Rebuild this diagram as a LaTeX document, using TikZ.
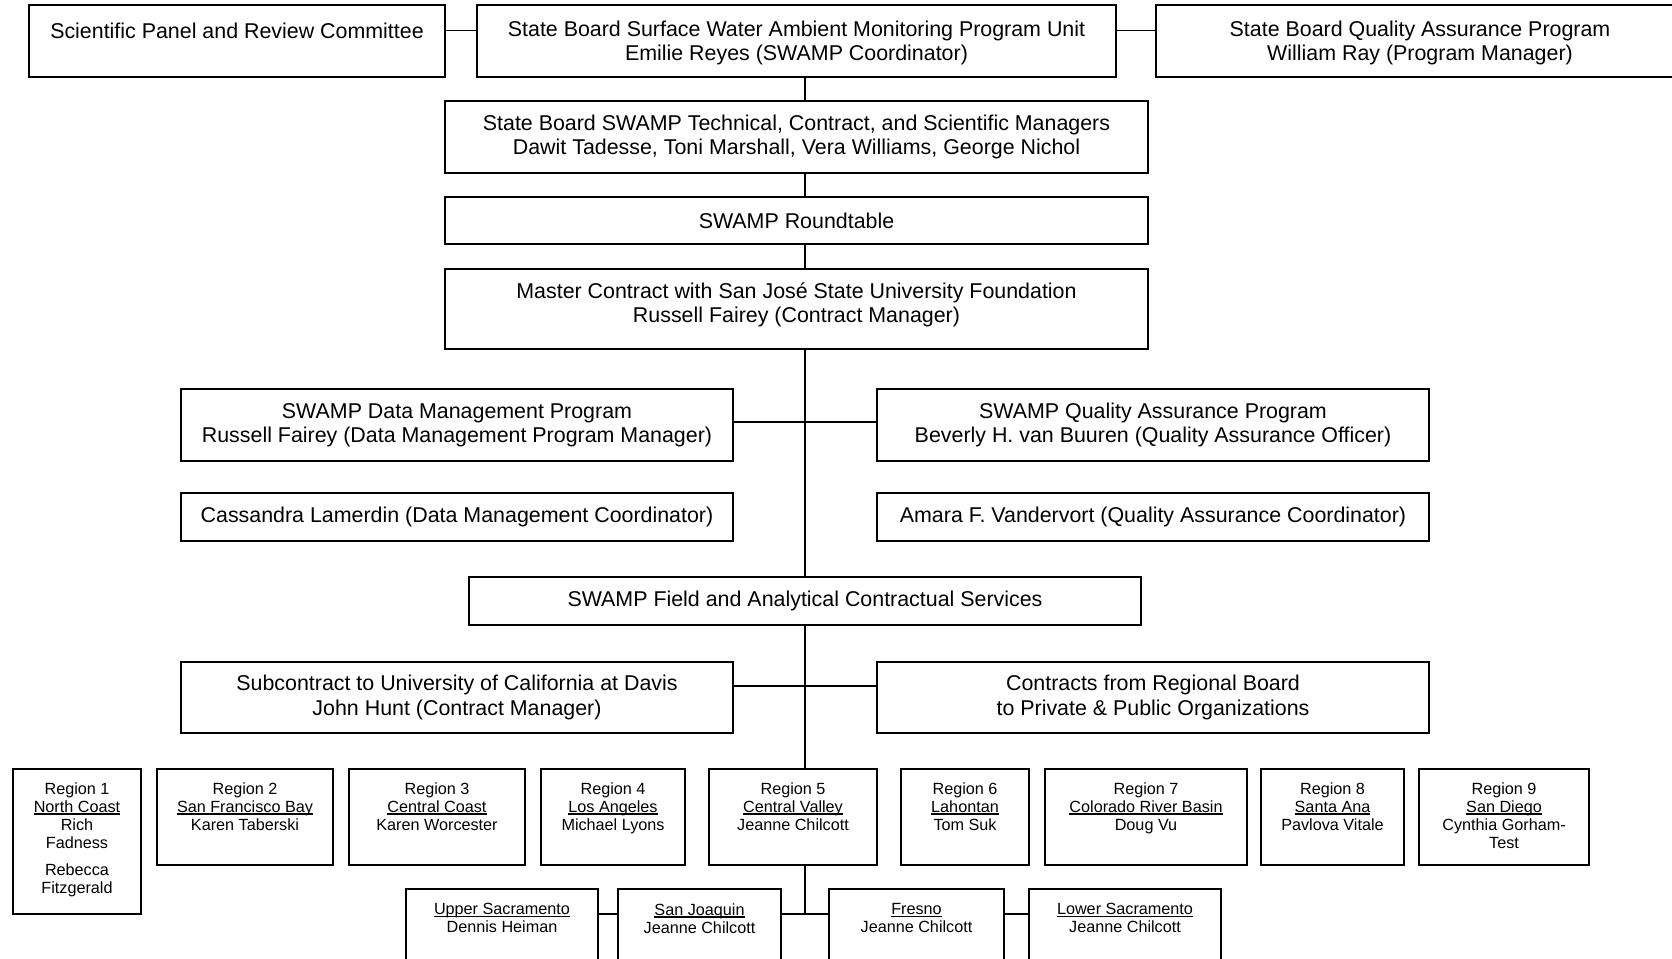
\documentclass[tikz,border=0pt]{standalone}
\usepackage{fontspec}
\setmainfont{Liberation Sans}
\usetikzlibrary{fit,calc}
\newcommand\bigf{\fontsize{21.4}{24.4}\selectfont}
\newcommand\smallf{\fontsize{16.2}{18}\selectfont}
\newcommand\uln[1]{\setbox0=\hbox{#1}\leavevmode\rlap{\rule[-2.4pt]{\wd0}{1.2pt}}\box0}
\tikzset{
  box/.style={draw=black, line width=1.4pt, inner sep=0pt},
  ctxt/.style={inner sep=0pt, align=center, font=\bigf, anchor=center},
  btxt/.style={inner sep=0pt, align=center, font=\bigf, anchor=north},
  stxt/.style={inner sep=0pt, align=center, font=\smallf, anchor=north},
  link/.style={draw=black, line width=1.2pt},
}
\begin{document}
\begin{tikzpicture}[x=1pt, y=-1pt]
\useasboundingbox (0,0) rectangle (1672,958);
% top row
\node[box, fit={(29,5) (445,77)}] (sci) {};
\node[btxt] (scit) at ([yshift=-18pt]sci.north) {Scientific Panel and Review Committee};
\node[box, fit={(477,5) (1116,77)}] (unit) {};
\node[ctxt] (unitt) at ([yshift=-2pt]unit.center) {State Board Surface Water Ambient Monitoring Program Unit\\Emilie Reyes (SWAMP Coordinator)};
\node[box, fit={(1156,5) (1684,77)}] (sbqa) {};
\node[ctxt] (sbqat) at ([yshift=-2pt]sbqa.center) {State Board Quality Assurance Program\\William Ray (Program Manager)};
% central column
\node[box, fit={(445,101) (1148,173)}] (tech) {};
\node[ctxt] (techt) at (tech.center) {State Board SWAMP Technical, Contract, and Scientific Managers\\Dawit Tadesse, Toni Marshall, Vera Williams, George Nichol};
\node[box, fit={(445,197) (1148,244)}] (round) {};
\node[ctxt] (roundt) at (round.center) {SWAMP Roundtable};
\node[box, fit={(445,269) (1148,349)}] (master) {};
\node[ctxt] (mastert) at ([yshift=4pt]master.center) {Master Contract with San José State University Foundation\\Russell Fairey (Contract Manager)};
\node[box, fit={(181,389) (733,461)}] (dm) {};
\node[ctxt] (dmt) at (dm.center) {SWAMP Data Management Program\\Russell Fairey (Data Management Program Manager)};
\node[box, fit={(877,389) (1429,461)}] (qap) {};
\node[ctxt] (qapt) at (qap.center) {SWAMP Quality Assurance Program\\Beverly H. van Buuren (Quality Assurance Officer)};
\node[box, fit={(181,493) (733,541)}] (cass) {};
\node[ctxt] (casst) at (cass.center) {Cassandra Lamerdin (Data Management Coordinator)};
\node[box, fit={(877,493) (1429,541)}] (amara) {};
\node[ctxt] (amarat) at (amara.center) {Amara F. Vandervort (Quality Assurance Coordinator)};
\node[box, fit={(469,577) (1141,625)}] (field) {};
\node[ctxt] (fieldt) at (field.center) {SWAMP Field and Analytical Contractual Services};
\node[box, fit={(181,662) (733,733)}] (ucd) {};
\node[ctxt] (ucdt) at (ucd.center) {Subcontract to University of California at Davis\\John Hunt (Contract Manager)};
\node[box, fit={(877,662) (1429,733)}] (regc) {};
\node[ctxt] (regct) at (regc.center) {Contracts from Regional Board\\to Private \& Public Organizations};
% regions
\node[box, fit={(13,769) (141,914)}] (r1) {};
\node[stxt] (r1t) at ([yshift=-14pt]r1.north) {Region 1\\\uln{North Coast}\\Rich\\Fadness\\[9pt]Rebecca\\Fitzgerald};
\node[box, fit={(157,769) (333,865)}] (r2) {};
\node[stxt] (r2t) at ([yshift=-14pt]r2.north) {Region 2\\\uln{San Francisco Bay}\\Karen Taberski};
\node[box, fit={(349,769) (525,865)}] (r3) {};
\node[stxt] (r3t) at ([yshift=-14pt]r3.north) {Region 3\\\uln{Central Coast}\\Karen Worcester};
\node[box, fit={(541,769) (685,865)}] (r4) {};
\node[stxt] (r4t) at ([yshift=-14pt]r4.north) {Region 4\\\uln{Los Angeles}\\Michael Lyons};
\node[box, fit={(709,769) (877,865)}] (r5) {};
\node[stxt] (r5t) at ([yshift=-14pt]r5.north) {Region 5\\\uln{Central Valley}\\Jeanne Chilcott};
\node[box, fit={(901,769) (1029,865)}] (r6) {};
\node[stxt] (r6t) at ([yshift=-14pt]r6.north) {Region 6\\\uln{Lahontan}\\Tom Suk};
\node[box, fit={(1045,769) (1247,865)}] (r7) {};
\node[stxt] (r7t) at ([yshift=-14pt]r7.north) {Region 7\\\uln{Colorado River Basin}\\Doug Vu};
\node[box, fit={(1261,769) (1404,865)}] (r8) {};
\node[stxt] (r8t) at ([yshift=-14pt]r8.north) {Region 8\\\uln{Santa Ana}\\Pavlova Vitale};
\node[box, fit={(1419,769) (1589,865)}] (r9) {};
\node[stxt] (r9t) at ([yshift=-14pt]r9.north) {Region 9\\\uln{San Diego}\\Cynthia Gorham-\\Test};
% Region 5 sub-offices
\node[box, fit={(406,889) (598,980)}] (us) {};
\node[stxt] (ust) at ([yshift=-15pt]us.north) {\uln{Upper Sacramento}\\Dennis Heiman};
\node[box, fit={(618,889) (781,980)}] (sj) {};
\node[stxt] (sjt) at ([yshift=-15pt]sj.north) {\uln{San Joaquin}\\Jeanne Chilcott};
\node[box, fit={(829,889) (1004,980)}] (fr) {};
\node[stxt] (frt) at ([yshift=-15pt]fr.north) {\uln{Fresno}\\Jeanne Chilcott};
\node[box, fit={(1029,889) (1221,980)}] (ls) {};
\node[stxt] (lst) at ([yshift=-15pt]ls.north) {\uln{Lower Sacramento}\\Jeanne Chilcott};
% connectors
\coordinate (trunk) at (805,0);
\coordinate (junc) at (805,914);
\draw[link] (sci.east |- scit) -- (unit.west |- scit);
\draw[link] (unit.east |- scit) -- (sbqa.west |- scit);
\draw[link] (unit.south -| trunk) -- (tech.north -| trunk);
\draw[link] (tech.south -| trunk) -- (round.north -| trunk);
\draw[link] (round.south -| trunk) -- (master.north -| trunk);
\draw[link] (master.south -| trunk) -- (field.north -| trunk);
\draw[link] (field.south -| trunk) -- (r5.north -| trunk);
\draw[link] (r5.south -| trunk) -- (junc);
\draw[link] ($(dm.north east)!0.46!(dm.south east)$) -- ($(qap.north west)!0.46!(qap.south west)$);
\draw[link] ($(ucd.north east)!0.34!(ucd.south east)$) -- ($(regc.north west)!0.34!(regc.south west)$);
\draw[link] (us.east |- junc) -- (sj.west |- junc);
\draw[link] (sj.east |- junc) -- (fr.west |- junc);
\draw[link] (fr.east |- junc) -- (ls.west |- junc);
\end{tikzpicture}
\end{document}
